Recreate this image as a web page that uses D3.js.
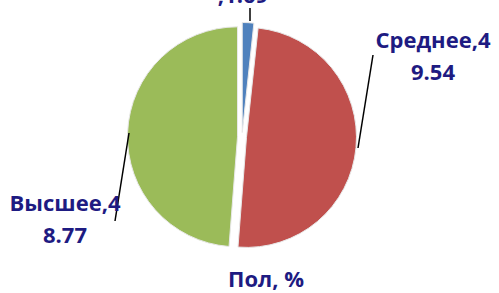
<!DOCTYPE html>
<html lang="ru">
<head>
    <meta charset="UTF-8">
    <title>Пол, %</title>
    <style>
        * { margin:0; padding:0; box-sizing:border-box; }
        body { background:#fff; overflow:hidden; }
        #chart { width:499px; height:293px; }
        text { font-family:"Open Sans", sans-serif; font-weight:700; fill:#1e1b82; }
    </style>
    <script src="https://unpkg.com/d3@7.6.1/dist/d3.min.js"></script>
</head>
<body>
    <div id="chart"></div>
    <script>
        // данные
        const categories=["Начальное","Среднее","Высшее"];
        const values=[1.69,49.54,48.77];
        const labelLines=[[categories[0],",1.69"],["Среднее,4","9.54"],["Высшее,4","8.77"]];
        const colors=["#4f81bd","#c0504d","#9bbb59"];

        const width=499, height=293;
        const cx=242, cy=137, r=110, explode=4.5;

        const svg=d3.select("#chart").append("svg")
            .attr("width",width)
            .attr("height",height);

        const pie=d3.pie().sort(null).value(d=>d);
        const arcs=pie(values);
        const arc=d3.arc().innerRadius(0).outerRadius(r);

        const g=svg.append("g").attr("transform",`translate(${cx},${cy})`);
        g.selectAll("path")
            .data(arcs)
            .join("path")
              .attr("d",arc)
              .attr("fill",(d,i)=>colors[i])
              .attr("stroke","#e8e8e8")
              .attr("stroke-width",1)
              .attr("transform",d=>{
                  const a=(d.startAngle+d.endAngle)/2;
                  return `translate(${explode*Math.sin(a)},${-explode*Math.cos(a)})`;
              });

        // выноски
        const leaders=[[[250,8],[250,21]],[[373,55],[358,148]],[[129,133],[115,221]]];
        svg.selectAll("line.leader")
            .data(leaders)
            .join("line")
              .attr("class","leader")
              .attr("x1",d=>d[0][0]).attr("y1",d=>d[0][1])
              .attr("x2",d=>d[1][0]).attr("y2",d=>d[1][1])
              .attr("stroke","#000")
              .attr("stroke-width",1.5);

        // подписи
        const labelPos=[[243,3],[433,80],[65,243]];
        labelLines.forEach((lines,i)=>{
            const t=svg.append("text")
                .attr("text-anchor","middle")
                .attr("font-size",22);
            lines.forEach((s,j)=>{
                t.append("tspan")
                    .attr("x",labelPos[i][0])
                    .attr("y",labelPos[i][1]-(lines.length-1-j)*32)
                    .text(s);
            });
        });

        svg.append("text")
            .attr("x",266)
            .attr("y",287)
            .attr("text-anchor","middle")
            .attr("font-size",22)
            .text("Пол, %");
    </script>
</body>
</html>
